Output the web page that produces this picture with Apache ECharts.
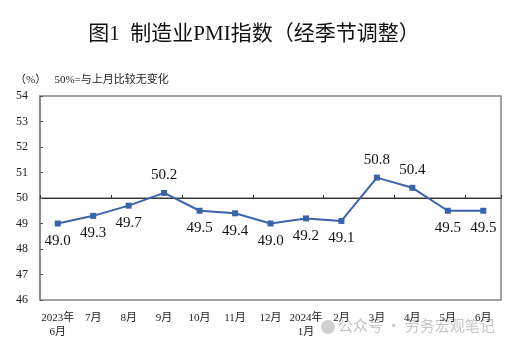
<!DOCTYPE html>
<html><head><meta charset="utf-8">
<script src="https://cdn.jsdelivr.net/npm/echarts@6/dist/echarts.min.js"></script>
<style>html,body{margin:0;padding:0;background:#fff}#c{width:508px;height:347px}</style>
</head><body><div id="c"></div>
<script>
const categories = ['2023年\n6月','7月','8月','9月','10月','11月','12月','2024年\n1月','2月','3月','4月','5月','6月'];
const pmiValues = [49.0,49.3,49.7,50.2,49.5,49.4,49.0,49.2,49.1,50.8,50.4,49.5,49.5];
const labelPositions = ['bottom','bottom','bottom','top','bottom','bottom','bottom','bottom','bottom','top','top','bottom','bottom'];
const yMin = 46, yMax = 54, yInterval = 1, refLine = 50;

const serif = '"Liberation Serif","DejaVu Serif","Noto Sans CJK SC",serif';
const chart = echarts.init(document.getElementById('c'));
chart.setOption({
  animation: false,
  backgroundColor: '#fff',
  title: [{
    text: '图1  制造业PMI指数（经季节调整）',
    left: 'center', top: 19,
    textStyle: {fontFamily: serif, fontSize: 21, fontWeight: 'normal', color: '#111'}
  }, {
    text: '（%）   50%=与上月比较无变化',
    left: 10, top: 70,
    textStyle: {fontFamily: serif, fontSize: 11, fontWeight: 'normal', color: '#222'}
  }],
  graphic: [{
    type: 'circle', shape: {cx: 328, cy: 327, r: 7}, silent: true,
    style: {fill: 'rgba(150,150,150,0.45)'}
  }, {
    type: 'text', left: 338, top: 318, silent: true,
    style: {text: '公众号 · 劳务宏观笔记', fontFamily: '"Noto Sans CJK SC",sans-serif', fontSize: 15, fill: 'rgba(150,150,150,0.55)'}
  }],
  grid: {left: 40, right: 7, top: 96, bottom: 47, show: true, borderColor: '#858585', borderWidth: 1.5},
  xAxis: [{
    type: 'category', data: categories, boundaryGap: true,
    axisLine: {show: true, lineStyle: {color: '#858585', width: 1.5}},
    axisTick: {show: false},
    axisLabel: {fontFamily: serif, fontSize: 11, color: '#222', margin: 11, lineHeight: 14, interval: 0}
  }, {
    type: 'category', data: categories, boundaryGap: true, position: 'bottom',
    axisLine: {show: true, onZero: true, onZeroAxisIndex: 1, lineStyle: {color: '#333', width: 1}},
    axisTick: {show: true, inside: true, length: 3, lineStyle: {color: '#333'}},
    axisLabel: {show: false}
  }],
  yAxis: [{
    type: 'value', min: yMin, max: yMax, interval: yInterval,
    axisLine: {show: true, lineStyle: {color: '#858585', width: 1.5}},
    axisTick: {show: true, inside: true, length: 3, lineStyle: {color: '#555'}},
    axisLabel: {fontFamily: serif, fontSize: 12, color: '#222', margin: 12},
    splitLine: {show: false}
  }, {
    type: 'value', min: yMin - refLine, max: yMax - refLine,
    axisLine: {show: false}, axisTick: {show: false}, axisLabel: {show: false}, splitLine: {show: false}
  }],
  series: [{
    type: 'line', xAxisIndex: 0, yAxisIndex: 0,
    data: pmiValues.map((v, i) => ({value: v, label: {position: labelPositions[i]}})),
    symbol: 'rect', symbolSize: 6,
    lineStyle: {color: '#3a64aa', width: 2},
    itemStyle: {color: '#3a64aa'},
    label: {show: true, distance: 7, fontFamily: serif, fontSize: 15, color: '#111',
      formatter: p => p.value.toFixed(1)}
  }]
});
</script></body></html>
